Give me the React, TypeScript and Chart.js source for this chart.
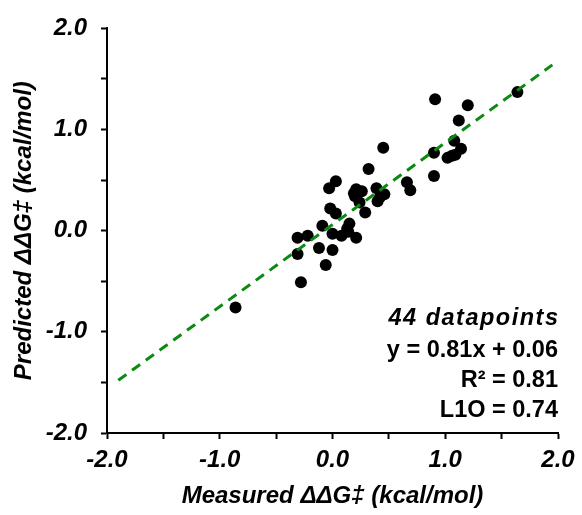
import React, { useEffect, useRef } from "react";
import { Chart, registerables } from "chart.js";

Chart.register(...registerables);

const measured = [
  0.91, 1.2, 1.64, 1.12, 0.45, 1.08, 1.14, 0.9, 1.02, 1.09,
  0.32, 0.9, 0.03, -0.03, 0.66, 0.69, 0.21, 0.26, 0.39, 0.2,
  0.46, 0.4, 0.24, -0.02, 0.03, 0.29, -0.09, 0.15, 0.0, 0.08,
  0.14, 0.21, -0.31, -0.22, -0.31, -0.12, 0.0, -0.06, -0.28, -0.86,
  0.19, 0.42, 0.13, 1.06,
];
const predicted = [
  1.3, 1.24, 1.37, 1.09, 0.82, 0.89, 0.81, 0.77, 0.72, 0.75,
  0.61, 0.54, 0.49, 0.42, 0.48, 0.4, 0.41, 0.39, 0.42, 0.34,
  0.36, 0.29, 0.28, 0.22, 0.17, 0.18, 0.05, 0.07, -0.03, -0.05,
  -0.01, -0.07, -0.07, -0.05, -0.23, -0.17, -0.19, -0.34, -0.51, -0.76,
  0.37, 0.33, 0.02, 0.74,
];
const fitSlope = 0.81;
const fitIntercept = 0.06;
const fitRange = [-1.9, 1.95];
const statLines = ["44 datapoints", "y = 0.81x + 0.06", "R\u00b2 = 0.81", "L1O = 0.74"];
const axisMin = -2;
const axisMax = 2;

const FONT = "'Liberation Sans', Arial, sans-serif";

const statsPlugin = {
  id: "stats",
  afterDraw(chart: any) {
    const ctx = chart.ctx;
    const area = chart.chartArea;
    ctx.save();
    ctx.fillStyle = "#000";
    ctx.textAlign = "right";
    ctx.textBaseline = "alphabetic";
    const baseY = [325, 357, 387, 417];
    statLines.forEach((t, i) => {
      ctx.font = (i === 0 ? "italic " : "") + "bold 23.5px " + FONT;
      (ctx as any).letterSpacing = i === 0 ? "1.5px" : "0px";
      ctx.fillText(t, area.right + (i === 0 ? 1.5 : 0), baseY[i]);
    });
    ctx.restore();
  },
};

export default function App() {
  const ref = useRef<HTMLCanvasElement | null>(null);
  useEffect(() => {
    if (!ref.current) return;
    const points = measured.map((x, i) => ({ x, y: predicted[i] }));
    const fit = fitRange.map((x) => ({ x, y: fitSlope * x + fitIntercept }));
    const tickFont = { family: FONT, size: 24, weight: "bold" as const, style: "italic" as const };
    const titleFont = { family: FONT, size: 24, weight: "bold" as const, style: "italic" as const };
    const tickCb = (v: any) => {
      const n = Number(v);
      return Math.abs(n - Math.round(n)) < 1e-9 ? n.toFixed(1) : "";
    };
    const chart = new Chart(ref.current, {
      type: "scatter",
      data: {
        datasets: [
          {
            type: "line",
            data: fit,
            borderColor: "#0b8a12",
            borderWidth: 3,
            borderDash: [10, 7],
            pointRadius: 0,
            fill: false,
            order: 0,
          } as any,
          {
            data: points,
            backgroundColor: "#000",
            borderColor: "#000",
            pointRadius: 6,
            borderWidth: 0,
            order: 1,
          },
        ],
      },
      options: {
        animation: false,
        responsive: false,
        layout: { padding: { top: 25, right: 24, left: 0, bottom: 0 } },
        plugins: { legend: { display: false }, tooltip: { enabled: false } },
        scales: {
          x: {
            type: "linear",
            min: axisMin,
            max: axisMax,
            afterFit: (s: any) => {
              s.height = 82;
            },
            ticks: { stepSize: 0.5, autoSkip: false, maxRotation: 0, callback: tickCb, color: "#000", font: tickFont, padding: 7 },
            grid: { drawOnChartArea: false, drawTicks: true, tickLength: 6, tickWidth: 2, tickColor: "#000" },
            border: { display: true, color: "#000", width: 2 },
            title: { display: true, text: "Measured \u0394\u0394G\u2021 (kcal/mol)", color: "#000", font: titleFont, padding: 4 },
          },
          y: {
            type: "linear",
            min: axisMin,
            max: axisMax,
            afterFit: (s: any) => {
              s.width = 107;
            },
            ticks: { stepSize: 0.5, autoSkip: false, callback: tickCb, color: "#000", font: tickFont, padding: 14 },
            grid: { drawOnChartArea: false, drawTicks: true, tickLength: 6, tickWidth: 2, tickColor: "#000" },
            border: { display: true, color: "#000", width: 2 },
            title: { display: true, text: "Predicted \u0394\u0394G\u2021 (kcal/mol)", color: "#000", font: titleFont, padding: 10 },
          },
        },
      },
      plugins: [statsPlugin],
    });
    return () => chart.destroy();
  }, []);
  return (
    <div style={{ position: "absolute", left: 0, top: 0, width: 582, height: 515, background: "#fff" }}>
      <canvas ref={ref} width={582} height={515} />
    </div>
  );
}
